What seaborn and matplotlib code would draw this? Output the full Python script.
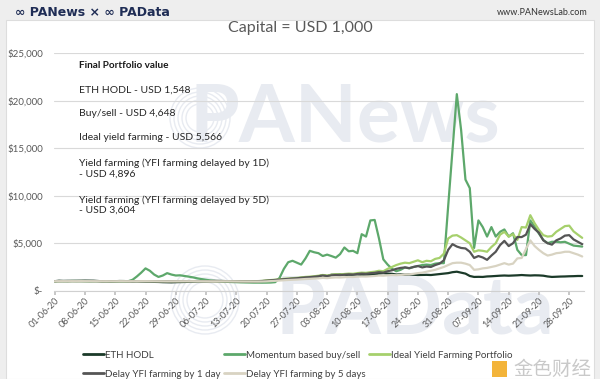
import numpy as np
import pandas as pd
import matplotlib
matplotlib.use("Agg")
import matplotlib.pyplot as plt
import matplotlib.dates as mdates
from matplotlib.patches import Rectangle, Circle
from matplotlib.transforms import IdentityTransform
from matplotlib.ticker import FuncFormatter
import seaborn as sns

# ---------------- data ----------------
start_date = "2020-06-01"
n_days = 123

eth_hodl = [
    1000, 1050, 1030, 1040, 1040, 1045, 1050, 1060, 1055, 1050,
    1020, 990, 1000, 980, 1000, 1020, 1015, 1000, 980, 990,
    970, 960, 950, 930, 920, 900, 890, 880, 900, 910,
    920, 940, 960, 980, 990, 1000, 1020, 1040, 1030, 1020,
    1000, 1010, 1000, 1010, 1000, 990, 1000, 1010, 1020, 1030,
    1060, 1100, 1180, 1200, 1210, 1250, 1300, 1350, 1380, 1400,
    1450, 1500, 1650, 1520, 1680, 1700, 1720, 1700, 1640, 1680,
    1700, 1650, 1690, 1660, 1720, 1800, 1850, 1800, 1780, 1700,
    1720, 1680, 1700, 1680, 1650, 1660, 1670, 1650, 1700, 1750,
    1800, 1850, 1950, 2000, 1900, 1800, 1550, 1450, 1460, 1450,
    1500, 1520, 1550, 1580, 1600, 1580, 1600, 1620, 1650, 1620,
    1600, 1620, 1610, 1580, 1500, 1450, 1470, 1490, 1500, 1520,
    1530, 1550, 1548,
]

momentum = [
    1000, 1010, 1005, 1000, 1020, 1015, 1010, 1000, 990, 1000,
    1010, 1005, 995, 990, 985, 980, 990, 1000, 1150, 1500,
    1900, 2350, 2100, 1700, 1450, 1600, 1850, 1700, 1600, 1620,
    1550, 1480, 1400, 1300, 1220, 1150, 1080, 1020, 980, 950,
    930, 910, 900, 880, 870, 860, 850, 850, 845, 850,
    860, 900, 1350, 2300, 3000, 3150, 2950, 2750, 3400, 4200,
    4050, 3950, 3650, 3800, 3650, 3480, 3850, 4550, 4150, 4200,
    3950, 5950, 5700, 7400, 7450, 5500, 3300, 2750, 2300, 2050,
    2200, 2450, 2350, 2500, 2600, 2700, 2750, 2700, 2850, 2900,
    2900, 8900, 14800, 20700, 16900, 11700, 10800, 4500, 7400, 6700,
    5700, 6700, 5700, 6200, 6450, 5700, 6050, 4300, 3750, 3750,
    7400, 6750, 6000, 5350, 5000, 5150, 5150, 5100, 5150, 4950,
    4750, 4700, 4648,
]

ideal_yield = [
    1000, 1005, 1010, 1008, 1012, 1010, 1015, 1012, 1010, 1008,
    1005, 1000, 1002, 998, 1000, 1005, 1003, 1000, 1002, 1005,
    1008, 1010, 1005, 1000, 998, 995, 990, 992, 995, 998,
    1000, 1002, 1005, 1000, 998, 995, 990, 988, 990, 992,
    995, 990, 985, 980, 978, 975, 980, 1000, 1030, 1080,
    1120, 1160, 1200, 1250, 1280, 1320, 1350, 1400, 1450, 1480,
    1520, 1580, 1650, 1600, 1680, 1720, 1700, 1760, 1800, 1780,
    1850, 1900, 1880, 1950, 2000, 2100, 2050, 2300, 2500, 2700,
    2850, 2950, 2900, 3050, 3200, 3000, 3150, 3100, 3350, 3450,
    3900, 5500, 5800, 5850, 5600, 5300, 5000, 4100, 4250, 4200,
    4100, 4600, 5000, 5900, 6200, 5700, 5950, 5350, 6700, 6650,
    7950, 7100, 6400, 5850, 5700, 5750, 6200, 6500, 6800, 6850,
    6250, 5900, 5566,
]

delay_1d = [
    1000, 1003, 1008, 1005, 1010, 1008, 1012, 1010, 1008, 1005,
    1003, 998, 1000, 995, 998, 1002, 1000, 998, 1000, 1002,
    1005, 1006, 1002, 998, 995, 992, 988, 990, 992, 995,
    998, 1000, 1002, 998, 995, 992, 988, 985, 987, 990,
    992, 988, 982, 978, 975, 972, 975, 985, 1010, 1050,
    1090, 1130, 1170, 1210, 1240, 1280, 1310, 1350, 1400, 1430,
    1470, 1520, 1600, 1540, 1620, 1650, 1630, 1690, 1720, 1700,
    1760, 1800, 1780, 1840, 1880, 1950, 1900, 2050, 2150, 2300,
    2400, 2450, 2380, 2500, 2600, 2450, 2550, 2500, 2700, 2850,
    3200, 4300, 4900, 4650, 4500, 4450, 4100, 3450, 3650, 3500,
    3250, 3700, 4100, 4800, 5250, 4700, 5000, 5650, 5650, 5900,
    7000, 6500, 6100, 5300, 5000, 4850, 5300, 5500, 5800, 5850,
    5400, 5150, 4896,
]

delay_5d = [
    1000, 1002, 1005, 1003, 1006, 1005, 1008, 1006, 1004, 1002,
    1000, 996, 998, 994, 996, 1000, 998, 996, 998, 1000,
    1002, 1003, 1000, 996, 993, 990, 986, 988, 990, 993,
    995, 997, 1000, 996, 993, 990, 986, 983, 985, 988,
    990, 985, 980, 975, 972, 970, 968, 966, 970, 985,
    1010, 1040, 1070, 1100, 1130, 1150, 1170, 1200, 1230, 1250,
    1280, 1300, 1350, 1320, 1370, 1400, 1390, 1420, 1450, 1440,
    1480, 1500, 1490, 1520, 1550, 1600, 1580, 1620, 1650, 1630,
    1660, 1700, 1720, 1780, 1850, 1900, 2000, 2100, 2200, 2350,
    2500, 2700, 2900, 2950, 2950, 2850, 2700, 2200, 2250, 2350,
    2400, 2500, 2600, 2750, 2900, 2750, 2850, 3400, 3450, 4400,
    5300, 4700, 4300, 3950, 3700, 3800, 3950, 4000, 4100, 4100,
    3950, 3800, 3604,
]

series_names = [
    "ETH HODL",
    "Momentum based buy/sell",
    "Ideal Yield Farming Portfolio",
    "Delay YFI farming by 1 day",
    "Delay YFI farming by 5 days",
]
series_colors = ["#1b3a29", "#5da86b", "#a6d06c", "#555555", "#d8d3c2"]

summary_title = "Final Portfolio value"
summary_lines = [
    "ETH HODL - USD 1,548",
    "Buy/sell - USD 4,648",
    "Ideal yield farming - USD 5,566",
    "Yield farming (YFI farming delayed by 1D)\n- USD 4,896",
    "Yield farming (YFI farming delayed by 5D)\n- USD 3,604",
]

y_ticks = [0, 5000, 10000, 15000, 20000, 25000]

# ---------------- build long table ----------------
dates = pd.date_range(start_date, periods=n_days, freq="D")
all_vals = [eth_hodl, momentum, ideal_yield, delay_1d, delay_5d]
df = pd.concat(
    [pd.DataFrame({"date": dates, "value": v, "series": n})
     for n, v in zip(series_names, all_vals)],
    ignore_index=True,
)

# ---------------- figure ----------------
sns.set_theme(style="white")
plt.rcParams["font.family"] = ["Lato", "DejaVu Sans"]

W, H = 600, 379
fig = plt.figure(figsize=(W / 100, H / 100), dpi=100)
fig.patch.set_facecolor("#eeeeee")
fig.add_artist(Rectangle((6 / W, 0), (W - 12) / W, (H - 20) / H,
                         transform=fig.transFigure, facecolor="white",
                         edgecolor="#dddddd", lw=0.8, zorder=-3))

# header
fig.text(15 / W, 1 - 12.5 / H, "\u221e PANews \u00d7 \u221e PAData", fontsize=9,
         fontweight="bold", color="#1f2d55", va="center", ha="left",
         family=["DejaVu Sans"])
fig.text(588 / W, 1 - 12.5 / H, "www.PANewsLab.com", fontsize=6.5,
         color="#333333", va="center", ha="right")

# watermarks
wm_color = "#e8ebf1"
fig.text(345 / W, 1 - 118 / H, "PANews", fontsize=58, fontweight="bold",
         color=wm_color, ha="center", va="center", zorder=-2)
fig.text(415 / W, 1 - 310 / H, "PAData", fontsize=58, fontweight="bold",
         color=wm_color, ha="center", va="center", zorder=-2)
for cx, cy, r0 in [(200, 118, 30), (205, 300, 34)]:
    for k in range(5):
        fig.add_artist(Circle((cx, H - cy), r0 - 4 * k, transform=IdentityTransform(),
                              fill=False, edgecolor=wm_color, lw=1.0, zorder=-2))
fig.add_artist(Rectangle((492 / W, 1 - 377 / H), 15 / W, 16 / H,
                         transform=fig.transFigure, facecolor="#f3b43a",
                         edgecolor="none", zorder=-1))
fig.text(591 / W, 1 - 369 / H, "金色财经", fontsize=14, color="#c9c9c9",
         ha="right", va="center", family=["Noto Sans CJK SC"])

# axes
ax_left, ax_right = 54 / W, 584 / W
ax_bottom, ax_top = 1 - 290.7 / H, 1 - 53.3 / H
ax = fig.add_axes([ax_left, ax_bottom, ax_right - ax_left, ax_top - ax_bottom])
ax.set_facecolor("none")

sns.lineplot(data=df, x="date", y="value", hue="series",
             hue_order=series_names, palette=series_colors,
             linewidth=1.6, ax=ax, legend=False)

ax.set_ylim(0, 25000)
ax.set_xlim(dates[0] - pd.Timedelta(hours=4), dates[-1] + pd.Timedelta(hours=10))
ax.set_yticks(y_ticks)
ax.yaxis.set_major_formatter(FuncFormatter(lambda v, p: "$-" if v == 0 else f"${v:,.0f}"))
ax.xaxis.set_major_locator(mdates.WeekdayLocator(byweekday=mdates.MO))
ax.xaxis.set_major_formatter(mdates.DateFormatter("%d-%m-%y"))
ax.set_xlabel("")
ax.set_ylabel("")

ax.grid(axis="y", color="#d9d9d9", lw=0.8)
ax.grid(axis="x", visible=False)
for s in ["left", "right", "top"]:
    ax.spines[s].set_visible(False)
ax.spines["bottom"].set_color("#d0d0d0")
ax.spines["bottom"].set_linewidth(0.8)
ax.tick_params(axis="x", which="major", length=3, color="#c0c0c0",
               labelsize=6.5, labelcolor="#595959", pad=1, bottom=True)
ax.tick_params(axis="y", length=0, labelsize=7, labelcolor="#595959", pad=8)
for lbl in ax.get_xticklabels():
    lbl.set_rotation(45)
    lbl.set_ha("right")
    lbl.set_rotation_mode("anchor")

# title
fig.text(0.5, 1 - 28 / H, "Capital = USD 1,000", fontsize=11.5,
         color="#595959", ha="center", va="center")

# summary block
tx = 79 / W
fig.text(tx, 1 - 66 / H, summary_title, fontsize=7.2, fontweight="bold",
         color="#1a1a1a", va="center", ha="left")
ys = [90, 114, 138, 168.5, 205]
for txt, y in zip(summary_lines, ys):
    fig.text(tx, 1 - y / H, txt, fontsize=7.5, color="#262626", va="center",
             ha="left", linespacing=1.15)

# legend
handles = [plt.Line2D([], [], color=c, lw=2) for c in series_colors]
order = [0, 3, 1, 4, 2]
leg = fig.legend([handles[i] for i in order], [series_names[i] for i in order],
                 ncol=3, loc="upper left", bbox_to_anchor=(79 / W, 1 - 347 / H),
                 frameon=False, fontsize=7, handlelength=2.2, handletextpad=0.1,
                 columnspacing=0.3, labelspacing=1.0, borderaxespad=0)
for t in leg.get_texts():
    t.set_color("#404040")

fig.savefig("out.png", dpi=100, facecolor=fig.get_facecolor())
